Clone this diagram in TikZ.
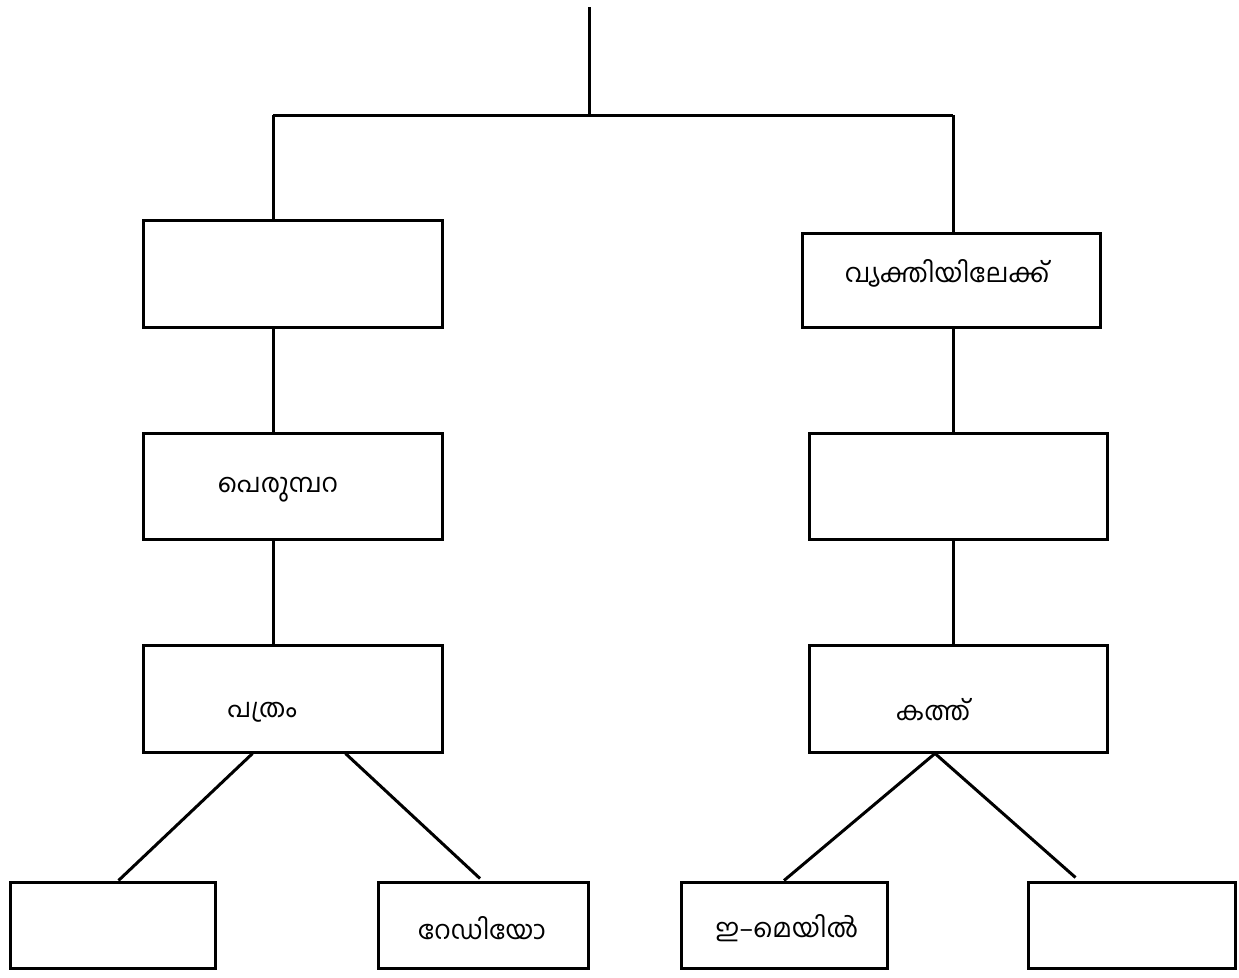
\documentclass[tikz,border=0pt]{standalone}
\usepackage{fontspec}
\newfontfamily\mlfont[Script=Malayalam]{Hind Kochi}
\tikzset{
  box/.style={draw=black, line width=3pt, rectangle, inner sep=0pt},
  conn/.style={draw=black, line width=3pt},
  lbl/.style={inner sep=0pt, font=\mlfont\fontsize{26}{30}\selectfont}
}
\begin{document}
\begin{tikzpicture}[x=1pt,y=-1pt]
\useasboundingbox (0,0) rectangle (1239,977);
% boxes (centre, width, height in px)
\node[box, minimum width=299pt, minimum height=107pt] (L1) at (292.5,273.5) {};
\node[box, minimum width=298pt, minimum height=94pt] (R1) at (951,280) {};
\node[box, minimum width=299pt, minimum height=106pt] (L2) at (292.5,486) {};
\node[box, minimum width=298pt, minimum height=106pt] (R2) at (958,486) {};
\node[box, minimum width=299pt, minimum height=107pt] (L3) at (292.5,698.5) {};
\node[box, minimum width=298pt, minimum height=107pt] (R3) at (958,698.5) {};
\node[box, minimum width=205pt, minimum height=86pt] (B1) at (112.5,925) {};
\node[box, minimum width=210pt, minimum height=86pt] (B2) at (483,925) {};
\node[box, minimum width=206pt, minimum height=86pt] (B3) at (784,925) {};
\node[box, minimum width=207pt, minimum height=86pt] (B4) at (1131.5,925) {};
% labels
\node[lbl] (tR1) at (947,273) {വ്യക്തിയിലേക്ക്};
\node[lbl] (tL2) at (278,490) {പെരുമ്പറ};
\node[lbl] (tL3) at (262,712) {പത്രം};
\node[lbl] (tR3) at (933,710) {കത്ത്};
\node[lbl] (tB2) at (482,928) {റേഡിയോ};
\node[lbl] (tB3) at (787,928) {ഇ–മെയിൽ};
% junctions
\coordinate (top) at (589,7);
\coordinate (mid) at (589,115);
\coordinate (hl) at (273,115);
\coordinate (hr) at (953,115);
% connectors
\draw[conn] (top) -- (mid);
\draw[conn] (hl) -- (hr);
\draw[conn] (hl) -- (hl |- L1.north);
\draw[conn] (hr) -- (hr |- R1.north);
\draw[conn] (hl |- L1.south) -- (hl |- L2.north);
\draw[conn] (hr |- R1.south) -- (hr |- R2.north);
\draw[conn] (hl |- L2.south) -- (hl |- L3.north);
\draw[conn] (hr |- R2.south) -- (hr |- R3.north);
\draw[conn] ([xshift=-40pt]L3.south) -- ([xshift=6pt]B1.north);
\draw[conn] ([xshift=53pt]L3.south) -- ([xshift=-3pt,yshift=2pt]B2.north);
\draw[conn] ([xshift=-23pt]R3.south) -- (B3.north);
\draw[conn] ([xshift=-23pt]R3.south) -- ([xshift=-56pt,yshift=3pt]B4.north);
\end{tikzpicture}
\end{document}
